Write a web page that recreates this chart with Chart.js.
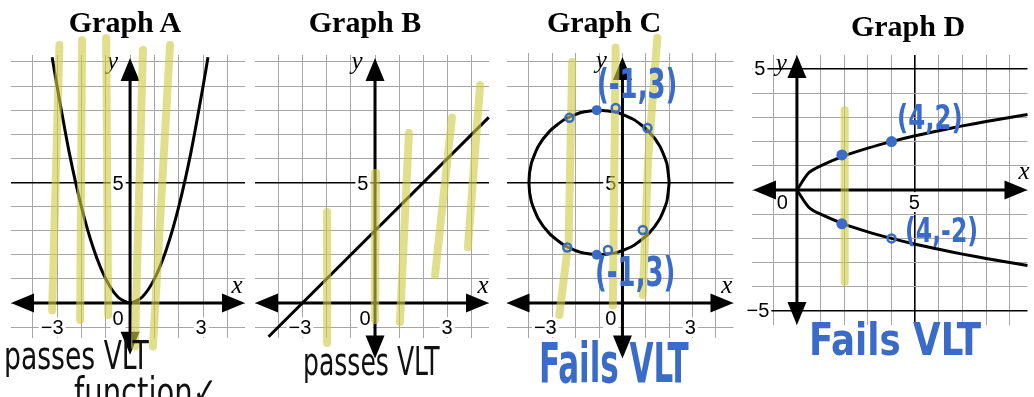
<!DOCTYPE html>
<html>
<head>
<meta charset="utf-8">
<script src="https://cdn.jsdelivr.net/npm/chart.js@4.4.1/dist/chart.umd.min.js"></script>
<style>
  html, body { margin: 0; padding: 0; background: #fff; overflow: hidden; }
  #wrap { position: relative; width: 1034px; height: 397px; overflow: hidden; }
  canvas { position: absolute; top: 0; }
  .title { position: absolute; top: 5px; transform: translateX(-50%); white-space: nowrap;
           font: bold 30px "Liberation Serif", "Times New Roman", serif; color: #000; }
  .hand { position: absolute; white-space: nowrap; line-height: 1; transform-origin: 0 0;
          font-family: "Liberation Sans Narrow", "DejaVu Sans Condensed", sans-serif; }
  .ink { color: #111; font-size: 34px; }
  .blue { color: #3a6bc9; font-weight: bold; }
</style>
</head>
<body>
<div id="wrap">
  <canvas id="gA" width="250" height="397" style="left:0"></canvas>
  <canvas id="gB" width="250" height="397" style="left:250px"></canvas>
  <canvas id="gC" width="240" height="397" style="left:500px"></canvas>
  <canvas id="gD" width="294" height="397" style="left:740px"></canvas>

  <div class="title" style="left:125px">Graph A</div>
  <div class="title" style="left:365px">Graph B</div>
  <div class="title" style="left:604px">Graph C</div>
  <div class="title" style="left:908px;top:9px">Graph D</div>

  <div class="hand ink" style="left:4px;top:336px;transform:scale(0.87,1.15)">passes VLT</div>
  <div class="hand ink" style="left:74px;top:372px;transform:scale(0.95,1.15)">function✓</div>
  <div class="hand ink" style="left:303px;top:342px;transform:scale(0.82,1.15)">passes VLT</div>
  <div class="hand blue" style="left:539px;top:336px;font-size:42px;transform:scale(0.82,1.3)">Fails VLT</div>
  <div class="hand blue" style="left:809px;top:318px;font-size:44px;transform:scale(0.9,1)">Fails VLT</div>
  <div class="hand blue" style="left:597px;top:64px;font-size:40px;transform:scale(0.72,1)">(-1,3)</div>
  <div class="hand blue" style="left:595px;top:252px;font-size:40px;transform:scale(0.72,1)">(-1,3)</div>
  <div class="hand blue" style="left:897px;top:100px;font-size:34px;transform:scale(0.8,1)">(4,2)</div>
  <div class="hand blue" style="left:905px;top:213px;font-size:34px;transform:scale(0.77,1)">(4,-2)</div>
</div>

<script>
// Graph A: y = x^2
const parabolaX = [-3.2, -3, -2.5, -2, -1.5, -1, -0.5, 0, 0.5, 1, 1.5, 2, 2.5, 3, 3.2];
const parabolaY = [10.2, 9, 6.25, 4, 2.25, 1, 0.25, 0, 0.25, 1, 2.25, 4, 6.25, 9, 10.2];

// Graph B: straight line
const lineX = [-4.4, 4.7];
const lineY = [-1.4, 7.7];

// Graph C: circle, centre (-1, 5), radius 3
const circleX = [2, 1.9, 1.6, 1.12, 0.5, -0.22, -1, -1.78, -2.5, -3.12, -3.6, -3.9, -4,
                 -3.9, -3.6, -3.12, -2.5, -1.78, -1, -0.22, 0.5, 1.12, 1.6, 1.9, 2];
const circleY = [5, 5.78, 6.5, 7.12, 7.6, 7.9, 8, 7.9, 7.6, 7.12, 6.5, 5.78, 5,
                 4.22, 3.5, 2.88, 2.4, 2.1, 2, 2.1, 2.4, 2.88, 3.5, 4.22, 5];

// Graph D: sideways parabola x = y^2
const sideX = [0, 0.5, 1, 2, 3, 4, 5, 6, 7, 8, 9, 9.75];
const sideUpperY = [0, 0.71, 1, 1.41, 1.73, 2, 2.24, 2.45, 2.65, 2.83, 3, 3.12];
const sideLowerY = [0, -0.71, -1, -1.41, -1.73, -2, -2.24, -2.45, -2.65, -2.83, -3, -3.12];

// highlighter strokes (vertical line tests), as [x, y] points
const strokesA = [[[-2.9, 10.7], [-3.2, -0.3]], [[-1.97, 10.9], [-2.05, -0.7]],
                  [[-0.98, 11.0], [-0.9, -0.5]], [[0.53, 10.5], [0.2, -1.8]],
                  [[1.64, 10.7], [0.94, -1.8]]];
const strokesB = [[[-1.98, 3.78], [-1.98, -1.66]], [[0.04, 5.4], [0, -0.7]],
                  [[1.4, 7.05], [1.03, -0.79]], [[3.18, 7.7], [2.48, 1.16]],
                  [[4.34, 9.05], [3.84, 2.32]]];
const strokesC = [[[-2.15, 10.0], [-2.3, 2.6], [-2.7, -0.5]], [[-0.29, 10.6], [-0.41, -0.1]],
                  [[1.49, 11.0], [1.1, 6], [0.87, 0.33]]];
const strokesD = [[[2.02, 3.3], [2.02, -3.8]]];

// blue marks
const dotsC = [[-1.1, 8.0], [-1.1, 2.0]];
const ringsC = [[-2.27, 7.68], [-0.29, 8.09], [1.07, 7.26], [-2.36, 2.3], [0.87, 3.03], [-0.62, 2.2]];
const dotsD = [[1.9, 1.45], [4, 2], [1.9, -1.4]];
const ringsD = [[4, -2]];

// tick labels
const ticksA = ['−3', '0', '3', '5'];
const ticksB = ['−3', '0', '3', '5'];
const ticksC = ['−3', '0', '3', '5'];
const ticksD = ['5', '−5', '0', '5'];

const BLUE = '#3a6bc9';
const pts = (xs, ys) => xs.map((x, i) => ({ x, y: ys[i] }));
const pairs = arr => arr.map(([x, y]) => ({ x, y }));

const curve = (xs, ys, tension) => ({
  data: pts(xs, ys), showLine: true, borderColor: '#000', borderWidth: 3,
  pointRadius: 0, tension: tension, clip: false, order: 3
});
const marker = strokes => strokes.map(s => ({
  data: pairs(s), showLine: true, borderColor: 'rgba(205, 205, 70, 0.62)', borderWidth: 8,
  borderCapStyle: 'round', borderJoinStyle: 'round', pointRadius: 0, clip: false, order: 2
}));
const dots = (arr, r) => ({
  data: pairs(arr), pointRadius: r, pointBackgroundColor: BLUE, pointBorderWidth: 0,
  clip: false, order: 1
});
const rings = (arr, r) => ({
  data: pairs(arr), pointRadius: r, pointBackgroundColor: 'rgba(0,0,0,0)',
  pointBorderColor: BLUE, pointBorderWidth: 2.5, clip: false, order: 1
});

function arrow(ctx, x, y, dx, dy) {
  const len = 23, half = 9.5;
  const bx = x - dx * len, by = y - dy * len;
  ctx.beginPath();
  ctx.moveTo(x, y);
  ctx.lineTo(bx - dy * half, by + dx * half);
  ctx.lineTo(bx + dy * half, by - dx * half);
  ctx.closePath();
  ctx.fill();
}

const decor = {
  id: 'decor',
  beforeDatasetsDraw(chart, args, o) {
    const { ctx } = chart;
    const sx = chart.scales.x, sy = chart.scales.y;
    const X = v => sx.getPixelForValue(v), Y = v => sy.getPixelForValue(v);
    ctx.save();

    // tick labels with white boxes
    ctx.font = '20px "Liberation Sans", Arial, sans-serif';
    ctx.textBaseline = 'middle';
    o.labels.forEach(l => {
      const px = X(l.x), py = Y(l.y);
      const w = ctx.measureText(l.t).width;
      const left = l.align === 'right' ? px - w : px - w / 2;
      ctx.fillStyle = '#fff';
      ctx.fillRect(left - 2, py - 10, w + 4, 20);
      ctx.fillStyle = '#000';
      ctx.textAlign = l.align || 'center';
      ctx.fillText(l.t, px, py + 1);
    });

    // axes with arrow heads
    ctx.strokeStyle = '#000';
    ctx.fillStyle = '#000';
    ctx.lineWidth = 3;
    const [x0, x1] = o.xAxis, [y0, y1] = o.yAxis;
    ctx.beginPath();
    ctx.moveTo(X(x0) + 10, Y(0)); ctx.lineTo(X(x1) - 10, Y(0));
    ctx.moveTo(X(0), Y(y0) - 10); ctx.lineTo(X(0), Y(y1) + 10);
    ctx.stroke();
    arrow(ctx, X(x0), Y(0), -1, 0);
    arrow(ctx, X(x1), Y(0), 1, 0);
    arrow(ctx, X(0), Y(y1), 0, -1);
    arrow(ctx, X(0), Y(y0), 0, 1);

    // axis names
    ctx.font = 'italic 25px "Liberation Serif", "Times New Roman", serif';
    ctx.textAlign = 'center';
    ctx.fillText('x', X(o.xName[0]), Y(o.xName[1]));
    ctx.fillText('y', X(o.yName[0]), Y(o.yName[1]));
    ctx.restore();
  }
};

function axis(range, bold) {
  return {
    type: 'linear', min: range[0], max: range[1],
    afterBuildTicks: ax => {
      const t = [];
      for (let v = Math.ceil(ax.min); v <= Math.floor(ax.max); v++) t.push({ value: v });
      ax.ticks = t;
    },
    ticks: { display: false },
    border: { display: false },
    grid: {
      drawTicks: false,
      color: c => bold.includes(c.tick.value) ? '#000' : '#a6a6a6',
      lineWidth: c => bold.includes(c.tick.value) ? 1.6 : 1
    }
  };
}

function panel(id, p) {
  return new Chart(document.getElementById(id), {
    type: 'scatter',
    data: { datasets: p.datasets },
    options: {
      responsive: false,
      animation: false,
      events: [],
      layout: { padding: p.pad },
      plugins: { legend: { display: false }, tooltip: { enabled: false }, decor: p.decor },
      scales: { x: axis(p.x, p.boldX), y: axis(p.y, p.boldY) }
    },
    plugins: [decor]
  });
}

panel('gA', {
  pad: { left: 11, right: 5, top: 55, bottom: 59 },
  x: [-4.89, 4.72], y: [-1.45, 10.29], boldX: [], boldY: [5],
  datasets: [...marker(strokesA), curve(parabolaX, parabolaY, 0.25)],
  decor: {
    xAxis: [-4.89, 4.72], yAxis: [-2.15, 10.17], xName: [4.39, 0.7], yName: [-0.72, 10.0],
    labels: [{ t: ticksA[0], x: -3.2, y: -1 }, { t: ticksA[1], x: -0.49, y: -0.62 },
             { t: ticksA[2], x: 2.92, y: -1 }, { t: ticksA[3], x: -0.49, y: 4.95 }]
  }
});

panel('gB', {
  pad: { left: 5, right: 11, top: 55, bottom: 59 },
  x: [-4.96, 4.71], y: [-1.45, 10.29], boldX: [], boldY: [5],
  datasets: [...marker(strokesB), curve(lineX, lineY, 0)],
  decor: {
    xAxis: [-4.96, 4.71], yAxis: [-2.3, 10.17], xName: [4.46, 0.7], yName: [-0.74, 10.0],
    labels: [{ t: ticksB[0], x: -3.1, y: -1 }, { t: ticksB[1], x: -0.41, y: -0.62 },
             { t: ticksB[2], x: 2.98, y: -1 }, { t: ticksB[3], x: -0.5, y: 4.95 }]
  }
});

panel('gC', {
  pad: { left: 2, right: 3, top: 53, bottom: 59 },
  x: [-4.96, 4.75], y: [-1.45, 10.37], boldX: [], boldY: [5],
  datasets: [dots(dotsC, 5), rings(ringsC, 4), ...marker(strokesC), curve(circleX, circleY, 0.2)],
  decor: {
    xAxis: [-4.96, 4.75], yAxis: [-2.3, 10.2], xName: [4.46, 0.7], yName: [-0.9, 10.0],
    labels: [{ t: ticksC[0], x: -3.3, y: -1 }, { t: ticksC[1], x: -0.5, y: -0.62 },
             { t: ticksC[2], x: 2.9, y: -1 }, { t: ticksC[3], x: -0.5, y: 4.95 }]
  }
});

panel('gD', {
  pad: { left: 12, right: 0, top: 55, bottom: 72 },
  x: [-1.9, 9.75], y: [-5.58, 5.58], boldX: [5], boldY: [5, -5],
  datasets: [dots(dotsD, 5.5), rings(ringsD, 4), ...marker(strokesD),
             curve(sideX, sideUpperY, 0.3), curve(sideX, sideLowerY, 0.3)],
  decor: {
    xAxis: [-1.86, 9.75], yAxis: [-5.58, 5.58], xName: [9.6, 0.72], yName: [-0.66, 5.17],
    labels: [{ t: ticksD[0], x: -1.57, y: 5.04 }, { t: ticksD[1], x: -1.65, y: -5 },
             { t: ticksD[2], x: -0.62, y: -0.5 }, { t: ticksD[3], x: 4.96, y: -0.5 }]
  }
});
</script>
</body>
</html>
